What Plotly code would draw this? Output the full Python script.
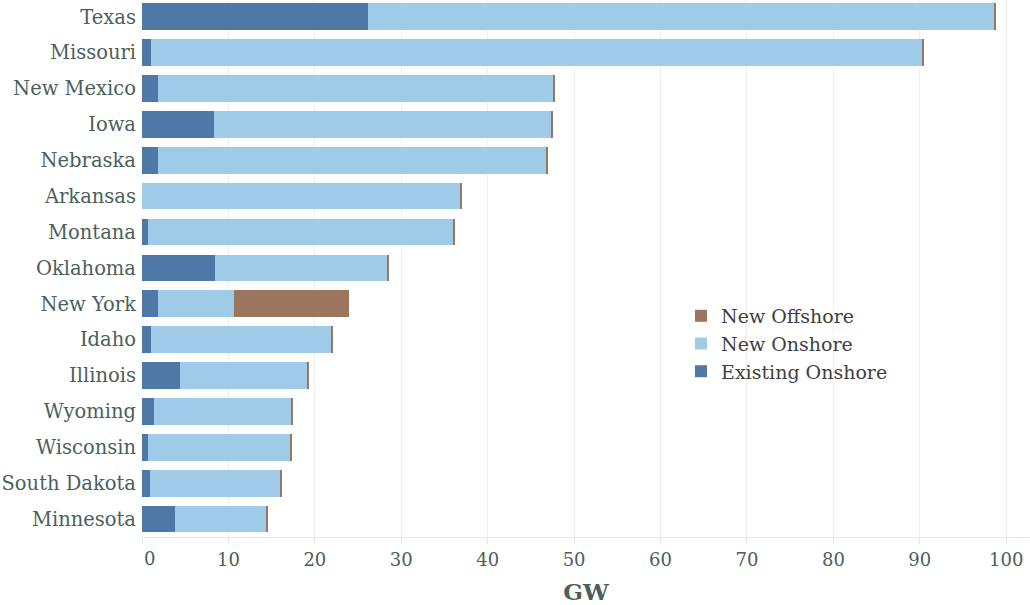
import plotly.graph_objects as go

states = ["Texas", "Missouri", "New Mexico", "Iowa", "Nebraska", "Arkansas", "Montana",
          "Oklahoma", "New York", "Idaho", "Illinois", "Wyoming", "Wisconsin",
          "South Dakota", "Minnesota"]
existing_onshore = [26.1, 1.0, 1.9, 8.3, 1.9, 0.0, 0.65, 8.4, 1.9, 1.0, 4.35, 1.35, 0.65, 0.9, 3.8]
new_onshore = [72.5, 89.2, 45.6, 39.0, 44.8, 36.75, 35.35, 19.9, 8.7, 20.9, 14.7, 15.85, 16.45, 15.1, 10.5]
new_offshore = [0.25, 0.25, 0.25, 0.25, 0.25, 0.25, 0.25, 0.25, 13.4, 0.25, 0.25, 0.25, 0.25, 0.25, 0.25]
x_ticks = [0, 10, 20, 30, 40, 50, 60, 70, 80, 90, 100]

FONT = "DejaVu Serif"
LABEL_COLOR = "#4b605b"

fig = go.Figure()
fig.add_bar(y=states, x=existing_onshore, orientation="h", name="Existing Onshore",
            marker=dict(color="#4e79a7", line=dict(width=0)))
fig.add_bar(y=states, x=new_onshore, orientation="h", name="New Onshore",
            marker=dict(color="#a0cbe8", line=dict(width=0)))
fig.add_bar(y=states, x=new_offshore, orientation="h", name="New Offshore",
            marker=dict(color="#9c755f", line=dict(width=0)))

fig.update_layout(
    barmode="stack",
    bargap=0.256,
    width=1030, height=605,
    margin=dict(l=142, r=0, t=0, b=68, autoexpand=False),
    paper_bgcolor="white", plot_bgcolor="white",
    font=dict(family=FONT, size=19.5, color=LABEL_COLOR),
    legend=dict(x=0.607, y=0.447, xanchor="left", yanchor="top", traceorder="reversed",
                font=dict(family=FONT, size=19, color="#404040"),
                bgcolor="rgba(0,0,0,0)", itemwidth=30, tracegroupgap=0),
    xaxis=dict(range=[0, 102.75], tickvals=x_ticks, automargin=False,
               ticktext=[""] + [str(v) for v in x_ticks[1:]],
               showgrid=True, gridcolor="#efefef", gridwidth=1,
               zeroline=False, showline=True, linecolor="#e6e6e6", linewidth=1,
               ticks="outside", ticklen=6, tickcolor="#e6e6e6",
               tickfont=dict(family=FONT, size=18, color=LABEL_COLOR),
               title=dict(text="<b>GW</b>", font=dict(family=FONT, size=23, color=LABEL_COLOR),
                          standoff=15)),
    yaxis=dict(categoryorder="array", categoryarray=states, automargin=False,
               range=[14.5, -0.465], showgrid=False, zeroline=False, ticks="",
               ticklabelstandoff=5,
               tickfont=dict(family=FONT, size=19.5, color=LABEL_COLOR)),
)

fig.add_annotation(x=x_ticks[0], y=0, xref="x", yref="paper", text=str(x_ticks[0]),
                   showarrow=False, xanchor="left", yanchor="top", yshift=-9,
                   font=dict(family=FONT, size=18, color=LABEL_COLOR))

fig.write_html("out.html", config={"displayModeBar": False},
               post_script="document.body.style.margin='0px';document.body.style.overflow='hidden';")
